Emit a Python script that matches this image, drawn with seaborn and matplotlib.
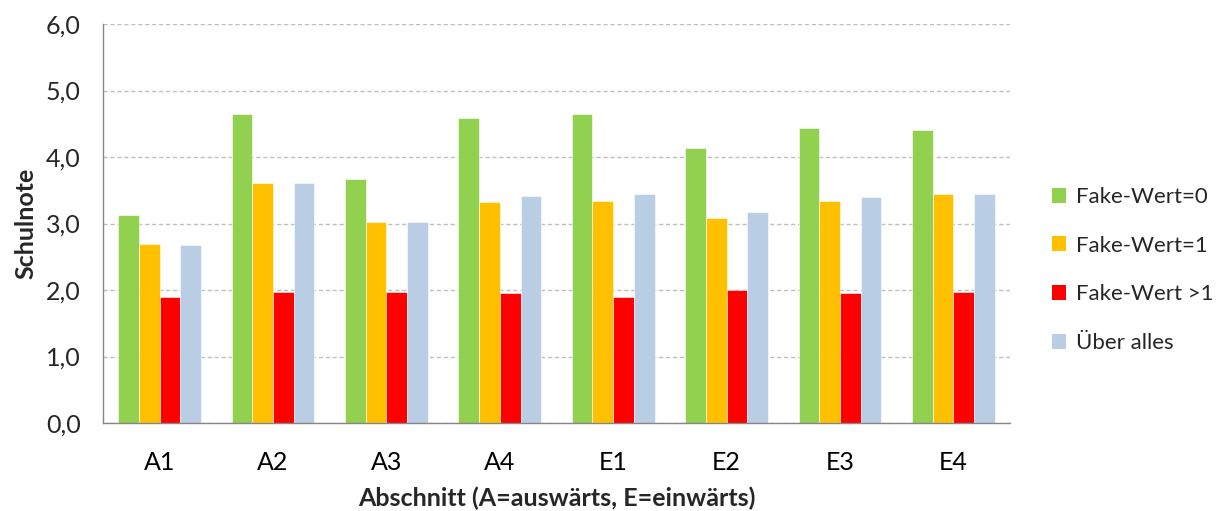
import pandas as pd
import numpy as np
import matplotlib.pyplot as plt
import seaborn as sns
from matplotlib.ticker import FixedLocator, FuncFormatter
from matplotlib.patches import Patch

# data
abschnitte = ['A1', 'A2', 'A3', 'A4', 'E1', 'E2', 'E3', 'E4']
fake_0 = [3.13, 4.64, 3.67, 4.58, 4.64, 4.14, 4.44, 4.40]
fake_1 = [2.69, 3.61, 3.02, 3.32, 3.34, 3.08, 3.34, 3.44]
fake_gt1 = [1.90, 1.97, 1.97, 1.96, 1.90, 2.00, 1.96, 1.97]
ueber_alles = [2.67, 3.61, 3.02, 3.42, 3.44, 3.17, 3.40, 3.45]

series_names = ['Fake-Wert=0', 'Fake-Wert=1', 'Fake-Wert >1', 'Über alles']
colors = ['#92D050', '#FFC000', '#FF0000', '#B9CDE5']

rows = []
for name, vals in zip(series_names, [fake_0, fake_1, fake_gt1, ueber_alles]):
    for a, v in zip(abschnitte, vals):
        rows.append({'Abschnitt': a, 'Serie': name, 'Schulnote': v})
df = pd.DataFrame(rows)

sns.set_style('white')
plt.rcParams['font.family'] = ['Lato', 'DejaVu Sans']

fig, ax = plt.subplots(figsize=(12.31, 5.11), dpi=100)
fig.subplots_adjust(left=103/1231, right=1010/1231, top=1-24/511, bottom=1-423/511)

sns.barplot(data=df, x='Abschnitt', y='Schulnote', hue='Serie', palette=colors,
            hue_order=series_names, width=0.73, saturation=1, ax=ax, legend=False,
            edgecolor='white', linewidth=0.4)

axis_col = '#868686'
ax.set_ylim(0, 6)
ax.set_xlim(-0.5, len(abschnitte) - 0.5)
ax.set_yticks(np.arange(0, 7, 1))
ax.yaxis.set_major_formatter(FuncFormatter(lambda v, p: f'{v:.1f}'.replace('.', ',')))
ax.yaxis.grid(True, linestyle=(0, (3, 2)), color='#BFBFBF', linewidth=1)
ax.set_axisbelow(True)

# tick marks between categories
ax.xaxis.set_minor_locator(FixedLocator(np.arange(-0.5, len(abschnitte), 1)))
ax.tick_params(axis='x', which='major', length=0, labelsize=18, pad=20, labelcolor='black')
ax.tick_params(axis='x', which='minor', length=6.5, width=1, color=axis_col, direction='out')
ax.tick_params(axis='y', length=7, width=1, color=axis_col, direction='out', labelsize=18, pad=9)

for s in ['top', 'right']:
    ax.spines[s].set_visible(False)
for s in ['left', 'bottom']:
    ax.spines[s].set_color(axis_col)
    ax.spines[s].set_linewidth(1)

ax.set_xlabel('Abschnitt (A=auswärts, E=einwärts)', fontsize=18, fontweight='bold', labelpad=9)
ax.set_ylabel('Schulnote', fontsize=18, fontweight='bold', labelpad=6)

handles = [Patch(facecolor=c, edgecolor='none') for c in colors]
fig.legend(handles, series_names, loc='center left', bbox_to_anchor=(1043/1231, 1-270/511),
           frameon=False, fontsize=16, handlelength=0.65, handleheight=0.65,
           handletextpad=0.45, labelspacing=1.29, borderaxespad=0)

plt.savefig('out.png', dpi=100)
